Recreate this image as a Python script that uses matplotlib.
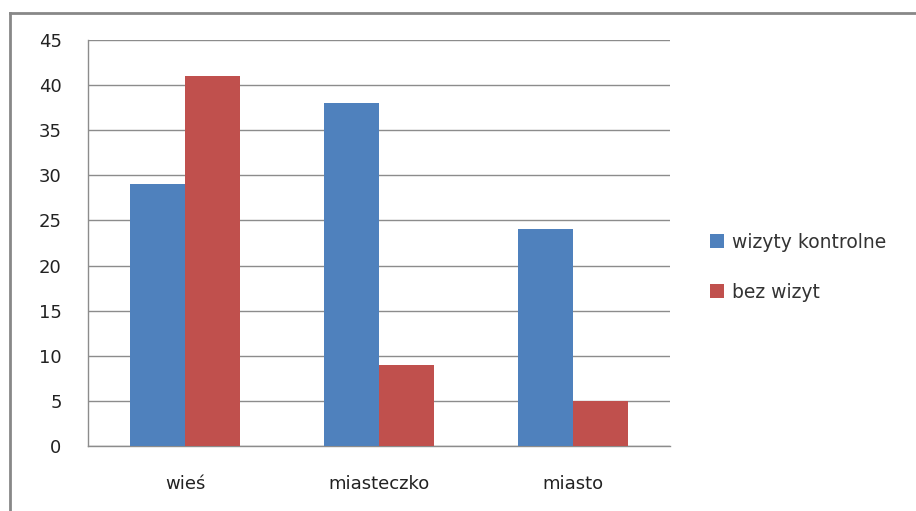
import matplotlib

matplotlib.use("Agg")

import matplotlib.pyplot as plt
from matplotlib.lines import Line2D
import numpy as np

categories = ["wieś", "miasteczko", "miasto"]
series_names = ["wizyty kontrolne", "bez wizyt"]
wizyty_kontrolne = [29, 38, 24]
bez_wizyt = [41, 9, 5]
y_ticks = [0, 5, 10, 15, 20, 25, 30, 35, 40, 45]

BLUE = "#4f81bd"
RED = "#c0504d"
GRID = "#8c8c8c"

plt.rcParams["font.family"] = ["DejaVu Sans"]

fig = plt.figure(figsize=(9.16, 5.11), dpi=100)
ax = fig.add_axes([88 / 916, 1 - 446 / 511, (670 - 88) / 916, (446 - 40) / 511])

x = np.arange(len(categories))
width = 0.284
ax.bar(x - width / 2, wizyty_kontrolne, width, color=BLUE, label=series_names[0], zorder=3)
ax.bar(x + width / 2, bez_wizyt, width, color=RED, label=series_names[1], zorder=3)

ax.set_xlim(-0.5, len(categories) - 0.5)
ax.set_ylim(0, 45)
ax.set_yticks(y_ticks)
ax.set_xticks(x)
ax.set_xticklabels(categories)
ax.tick_params(axis="both", length=0, labelsize=13, colors="#222222")
ax.tick_params(axis="y", pad=19)
ax.tick_params(axis="x", pad=21)
ax.grid(axis="y", color=GRID, linewidth=1, zorder=0)

for side in ["top", "right"]:
    ax.spines[side].set_visible(False)
for side in ["left", "bottom"]:
    ax.spines[side].set_color(GRID)
    ax.spines[side].set_linewidth(1)

ax.legend(
    loc="center left",
    bbox_to_anchor=(1.04, 0.44),
    frameon=False,
    fontsize=13.5,
    handlelength=0.75,
    handleheight=0.75,
    handletextpad=0.4,
    labelspacing=1.65,
    labelcolor="#333333",
)

# outer chart border (top and left edges)
fig.add_artist(Line2D([10 / 916, 1], [1 - 13 / 511] * 2, color="#888888", linewidth=2))
fig.add_artist(Line2D([10 / 916] * 2, [0, 1 - 13 / 511], color="#888888", linewidth=2))

fig.savefig("out.png", dpi=100)
